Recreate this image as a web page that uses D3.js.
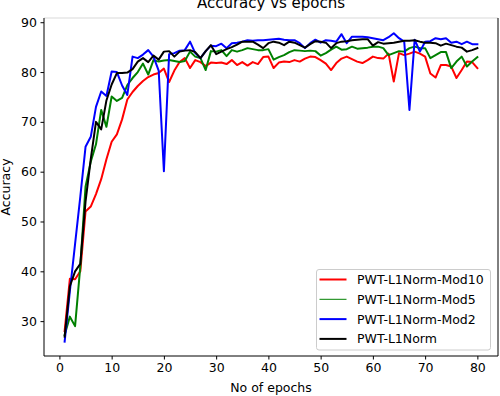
<!DOCTYPE html>
<html>
<head>
<meta charset="utf-8">
<script src="https://cdn.jsdelivr.net/npm/d3@7"></script>
<style>
  html, body { margin: 0; padding: 0; background: #fff; }
  svg { display: block; font-family: "DejaVu Sans", sans-serif; }
</style>
</head>
<body>
<svg id="chart" width="500" height="396"></svg>
<script>
// epochs 1..80
const epochs = d3.range(1, 81);

const mod10 = [28.0, 38.5, 38.4, 40.0, 52.0, 53.0, 55.5, 58.5, 62.5, 66.0,
  67.5, 70.5, 74.5, 76.0, 77.2, 78.2, 79.0, 79.5, 79.8, 80.7,
  78.0, 80.3, 82.0, 82.8, 80.8, 82.4, 82.0, 81.2, 81.9, 81.8,
  81.9, 81.6, 82.4, 81.4, 82.0, 81.3, 82.0, 81.6, 83.0, 83.1,
  80.8, 81.9, 82.1, 82.0, 82.4, 82.1, 82.7, 83.1, 83.0, 82.4,
  81.7, 80.4, 81.8, 82.7, 83.1, 82.6, 82.1, 81.8, 82.4, 83.1,
  82.8, 82.7, 83.7, 78.1, 83.8, 83.4, 83.7, 84.1, 83.7, 83.1,
  79.7, 78.9, 81.4, 81.4, 81.1, 78.8, 80.4, 82.1, 82.0, 80.8];

const mod5 = [27.2, 30.9, 29.0, 41.0, 57.0, 62.0, 65.5, 72.4, 69.0, 75.1,
  74.2, 74.8, 77.4, 78.8, 80.0, 81.7, 79.5, 82.4, 82.1, 82.3,
  82.4, 82.2, 82.0, 82.2, 84.1, 83.1, 82.8, 80.4, 84.2, 84.1,
  84.4, 83.2, 84.4, 84.1, 84.4, 84.8, 84.6, 84.4, 84.4, 84.6,
  82.5, 83.0, 83.4, 84.0, 84.4, 84.3, 84.2, 84.3, 84.2, 83.3,
  83.8, 84.5, 85.1, 84.5, 84.6, 85.1, 84.7, 84.8, 84.9, 85.1,
  85.1, 84.8, 83.4, 83.8, 84.2, 84.1, 84.8, 85.1, 84.8, 84.8,
  82.8, 83.4, 84.0, 84.0, 80.8, 82.1, 83.1, 81.1, 82.1, 83.0];

const mod2 = [25.9, 36.0, 45.5, 55.0, 65.0, 67.0, 73.0, 76.1, 75.2, 80.1,
  80.0, 77.3, 75.4, 83.1, 82.8, 83.5, 84.4, 83.1, 80.3, 60.1,
  83.6, 83.8, 84.3, 84.4, 86.1, 83.8, 82.8, 84.2, 85.3, 85.2,
  85.7, 84.8, 85.8, 85.9, 86.1, 86.4, 86.3, 86.4, 86.4, 86.5,
  86.6, 86.7, 86.5, 86.4, 86.4, 85.8, 84.8, 85.8, 86.5, 85.9,
  86.4, 86.3, 86.1, 87.6, 85.8, 87.1, 87.1, 87.1, 87.0, 86.8,
  86.6, 86.4, 87.0, 87.8, 86.8, 86.1, 72.4, 86.5, 84.1, 86.1,
  86.2, 86.8, 86.6, 86.8, 85.9, 86.1, 85.6, 86.1, 85.6, 85.6];

const l1norm = [26.9, 37.0, 40.0, 41.5, 54.0, 62.5, 70.0, 68.5, 74.3, 77.5,
  79.8, 79.8, 79.9, 80.6, 82.1, 82.8, 82.0, 83.3, 82.5, 84.1,
  84.2, 83.1, 84.1, 84.3, 84.4, 84.0, 82.8, 84.2, 85.4, 83.6,
  84.1, 84.6, 85.0, 85.5, 86.1, 86.1, 86.1, 85.5, 84.8, 85.8,
  86.1, 85.9, 85.4, 86.1, 85.9, 85.4, 84.9, 85.6, 86.2, 86.1,
  85.9, 84.8, 85.8, 86.1, 86.2, 86.4, 86.5, 86.6, 86.6, 85.3,
  86.0, 85.7, 85.8, 85.9, 86.1, 86.3, 86.3, 86.4, 86.1, 85.9,
  85.9, 85.8, 85.3, 85.7, 85.4, 85.1, 84.9, 84.1, 84.4, 84.8];

const seriesNames = ["PWT-L1Norm-Mod10", "PWT-L1Norm-Mod5", "PWT-L1Norm-Mod2", "PWT-L1Norm"];
const seriesColors = ["#ff0000", "#008000", "#0000ff", "#000000"];
const seriesValues = [mod10, mod5, mod2, l1norm];

const xTicks = [0, 10, 20, 30, 40, 50, 60, 70, 80];
const yTicks = [30, 40, 50, 60, 70, 80, 90];

const svg = d3.select("#chart");
const margin = { top: 18, right: 2, bottom: 40, left: 44 }; // plot box 44..498 x 18..356
const width = 500, height = 396;
const fontSize = 12.5;

const x = d3.scaleLinear()
  .domain([-2.95, 83.95])
  .range([margin.left, width - margin.right]);

const y = d3.scaleLinear()
  .domain([23.0, 90.85])
  .range([height - margin.bottom, margin.top]);

// lines, clipped to the axes box
svg.append("clipPath").attr("id", "plotclip")
  .append("rect")
  .attr("x", margin.left).attr("y", margin.top)
  .attr("width", width - margin.left - margin.right)
  .attr("height", height - margin.top - margin.bottom);

const line = d3.line()
  .x((d, i) => x(epochs[i]))
  .y(d => y(d));

svg.append("g")
  .attr("clip-path", "url(#plotclip)")
  .selectAll("path")
  .data(seriesValues)
  .join("path")
  .attr("d", line)
  .attr("fill", "none")
  .attr("stroke", (d, i) => seriesColors[i])
  .attr("stroke-width", 2)
  .attr("stroke-linejoin", "round")
  .attr("stroke-linecap", "square");

// axes
const xAxis = svg.append("g")
  .attr("transform", `translate(0,${height - margin.bottom})`)
  .call(d3.axisBottom(x).tickValues(xTicks).tickSize(3.5).tickPadding(3.5));

const yAxis = svg.append("g")
  .attr("transform", `translate(${margin.left},0)`)
  .call(d3.axisLeft(y).tickValues(yTicks).tickSize(3.5).tickPadding(3.5));

[xAxis, yAxis].forEach(g => {
  g.select(".domain").remove();
  g.selectAll("line").attr("stroke", "#000");
  g.selectAll("text")
    .attr("fill", "#000")
    .style("font-size", fontSize + "px")
    .style("font-family", "DejaVu Sans");
});

// spines (top one is faint in the picture)
svg.append("line")
  .attr("x1", margin.left).attr("x2", width - margin.right)
  .attr("y1", margin.top).attr("y2", margin.top)
  .attr("stroke", "#e6e6e6").attr("stroke-width", 1.5);
svg.append("rect")
  .attr("x", margin.left).attr("y", margin.top)
  .attr("width", width - margin.left - margin.right)
  .attr("height", height - margin.top - margin.bottom)
  .attr("fill", "none")
  .attr("stroke", "#000")
  .attr("stroke-width", 1)
  .attr("stroke-dasharray", `0 ${width - margin.left - margin.right} 10000`);

// titles
svg.append("text")
  .attr("x", (margin.left + width - margin.right) / 2)
  .attr("y", 7.5)
  .attr("text-anchor", "middle")
  .style("font-size", "15px")
  .text("Accuracy vs epochs");

svg.append("text")
  .attr("x", (margin.left + width - margin.right) / 2)
  .attr("y", 392)
  .attr("text-anchor", "middle")
  .style("font-size", fontSize + "px")
  .text("No of epochs");

svg.append("text")
  .attr("transform", `translate(10,${(margin.top + height - margin.bottom) / 2}) rotate(-90)`)
  .attr("text-anchor", "middle")
  .style("font-size", fontSize + "px")
  .text("Accuracy");

// legend
const legend = svg.append("g").attr("transform", "translate(316.5,269.5)");
legend.append("rect")
  .attr("width", 174).attr("height", 80.5)
  .attr("rx", 2.5)
  .attr("fill", "#fff").attr("fill-opacity", 0.8)
  .attr("stroke", "#cccccc").attr("stroke-width", 1);

const items = legend.selectAll("g.item")
  .data(seriesNames)
  .join("g")
  .attr("class", "item")
  .attr("transform", (d, i) => `translate(0,${10 + i * 19.8})`);

items.append("line")
  .attr("x1", 3).attr("x2", 30)
  .attr("stroke", (d, i) => seriesColors[i])
  .attr("stroke-width", (d, i) => i === 1 ? 1 : 2);

items.append("text")
  .attr("x", 40.5)
  .attr("y", 4.5)
  .style("font-size", fontSize + "px")
  .text(d => d);
</script>
</body>
</html>
